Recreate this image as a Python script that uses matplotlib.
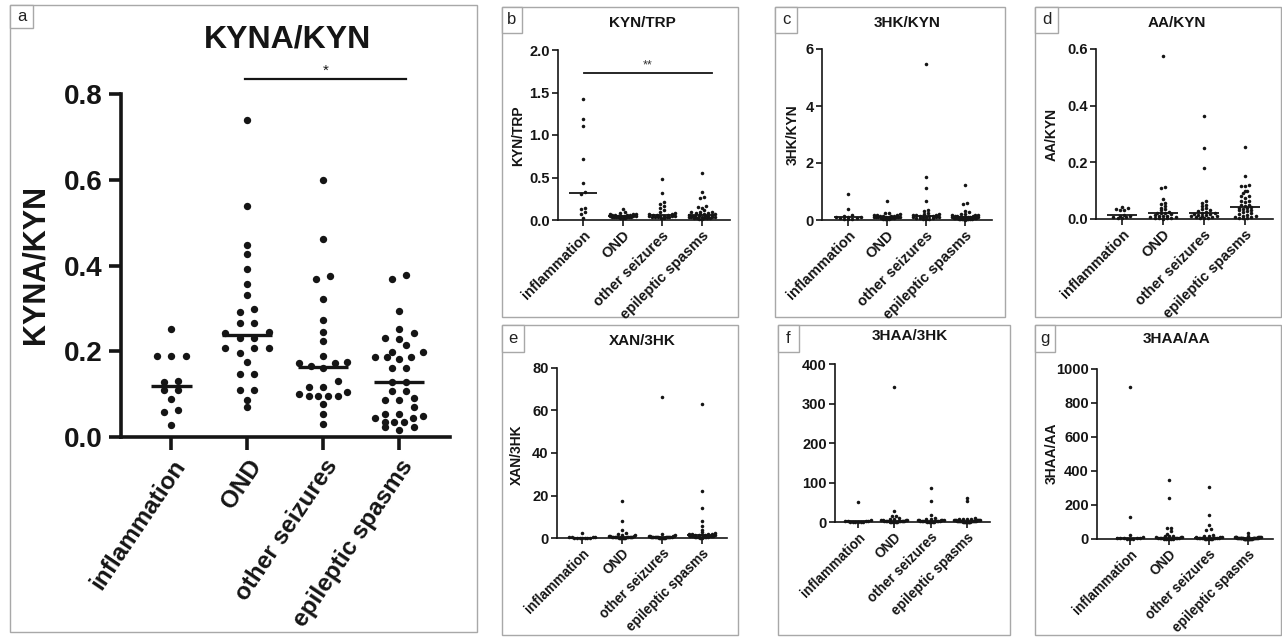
import numpy as np
import matplotlib
matplotlib.use("Agg")
import matplotlib.pyplot as plt
from matplotlib.patches import Rectangle
from matplotlib.ticker import FormatStrFormatter

plt.rcParams['font.family'] = ['Liberation Sans', 'DejaVu Sans']

W, H, DPI = 1282, 637, 100

categories = ["inflammation", "OND", "other seizures", "epileptic spasms"]

# ---------------- data ----------------
kyna_kyn = [
    [0.251, 0.188, 0.188, 0.188, 0.129, 0.131, 0.110, 0.110, 0.088, 0.058, 0.063, 0.028],
    [0.739, 0.539, 0.448, 0.427, 0.393, 0.357, 0.331, 0.298, 0.292, 0.267, 0.267, 0.246,
     0.243, 0.232, 0.232, 0.208, 0.208, 0.208, 0.197, 0.175, 0.147, 0.147, 0.110, 0.110,
     0.086, 0.069],
    [0.599, 0.462, 0.376, 0.369, 0.321, 0.273, 0.244, 0.225, 0.190, 0.175, 0.172, 0.172,
     0.165, 0.160, 0.130, 0.116, 0.116, 0.105, 0.100, 0.096, 0.096, 0.096, 0.096, 0.077,
     0.054, 0.030],
    [0.379, 0.369, 0.295, 0.253, 0.242, 0.232, 0.228, 0.215, 0.199, 0.198, 0.187, 0.187,
     0.186, 0.182, 0.161, 0.161, 0.129, 0.129, 0.107, 0.107, 0.090, 0.086, 0.086, 0.069,
     0.054, 0.054, 0.048, 0.044, 0.044, 0.035, 0.035, 0.035, 0.023, 0.023, 0.016],
]

kyn_trp = [
    [1.424, 1.184, 1.11, 0.714, 0.431, 0.333, 0.306, 0.137, 0.125, 0.09, 0.067, 0.028],
    [0.126, 0.09, 0.08, 0.075, 0.07, 0.065, 0.06, 0.06, 0.055, 0.055, 0.05, 0.05, 0.05,
     0.048, 0.045, 0.045, 0.04, 0.04, 0.038, 0.035, 0.035, 0.03, 0.03, 0.028, 0.025, 0.02],
    [0.479, 0.314, 0.216, 0.19, 0.169, 0.14, 0.118, 0.1, 0.078, 0.07, 0.065, 0.06, 0.058,
     0.055, 0.052, 0.05, 0.048, 0.045, 0.043, 0.04, 0.038, 0.035, 0.033, 0.03, 0.025, 0.02],
    [0.549, 0.326, 0.275, 0.26, 0.16, 0.15, 0.14, 0.12, 0.10, 0.095, 0.09, 0.085, 0.08,
     0.075, 0.07, 0.065, 0.06, 0.055, 0.05, 0.05, 0.048, 0.045, 0.042, 0.04, 0.038, 0.035,
     0.032, 0.03, 0.028, 0.025, 0.022, 0.02, 0.018, 0.015, 0.01],
]

hk3_kyn = [
    [0.90, 0.39, 0.16, 0.15, 0.12, 0.11, 0.10, 0.08, 0.06, 0.05, 0.04, 0.03],
    [0.67, 0.26, 0.24, 0.2, 0.18, 0.17, 0.16, 0.15, 0.14, 0.13, 0.13, 0.12, 0.12, 0.11,
     0.11, 0.10, 0.10, 0.09, 0.09, 0.08, 0.07, 0.06, 0.05, 0.05, 0.04, 0.03],
    [5.49, 1.50, 1.12, 0.67, 0.35, 0.32, 0.25, 0.22, 0.2, 0.18, 0.17, 0.16, 0.15, 0.14,
     0.13, 0.12, 0.12, 0.11, 0.10, 0.09, 0.08, 0.07, 0.06, 0.05, 0.04, 0.03],
    [1.23, 0.58, 0.55, 0.32, 0.28, 0.22, 0.2, 0.18, 0.17, 0.16, 0.15, 0.14, 0.13, 0.12,
     0.12, 0.11, 0.1, 0.1, 0.09, 0.09, 0.08, 0.08, 0.07, 0.07, 0.06, 0.06, 0.05, 0.05,
     0.04, 0.04, 0.03, 0.03, 0.02, 0.02, 0.01],
]

aa_kyn = [
    [0.042, 0.038, 0.035, 0.033, 0.03, 0.015, 0.012, 0.01, 0.008, 0.006, 0.005, 0.003],
    [0.576, 0.112, 0.108, 0.07, 0.058, 0.052, 0.045, 0.04, 0.035, 0.03, 0.025, 0.022,
     0.022, 0.02, 0.018, 0.015, 0.012, 0.01, 0.01, 0.008, 0.007, 0.005, 0.004, 0.003,
     0.002, 0.001],
    [0.362, 0.251, 0.18, 0.062, 0.056, 0.05, 0.047, 0.04, 0.035, 0.03, 0.028, 0.025,
     0.022, 0.02, 0.018, 0.017, 0.015, 0.014, 0.012, 0.01, 0.01, 0.008, 0.006, 0.005,
     0.003, 0.002],
    [0.254, 0.153, 0.12, 0.118, 0.115, 0.1, 0.098, 0.09, 0.082, 0.08, 0.075, 0.065,
     0.062, 0.06, 0.05, 0.048, 0.045, 0.042, 0.04, 0.038, 0.035, 0.032, 0.03, 0.028,
     0.025, 0.02, 0.018, 0.015, 0.012, 0.01, 0.008, 0.006, 0.005, 0.003, 0.002],
]

xan_3hk = [
    [2.3, 0.6, 0.4, 0.3, 0.25, 0.2, 0.15, 0.1, 0.1, 0.05, 0.05, 0.02],
    [17.2, 8.2, 3.6, 2.3, 1.8, 1.5, 1.2, 1.0, 0.9, 0.8, 0.7, 0.6, 0.6, 0.5, 0.5, 0.4,
     0.4, 0.3, 0.3, 0.25, 0.2, 0.2, 0.15, 0.1, 0.1, 0.05],
    [66.2, 1.9, 1.2, 1.0, 0.9, 0.8, 0.8, 0.7, 0.6, 0.6, 0.5, 0.5, 0.5, 0.4, 0.4, 0.4,
     0.3, 0.3, 0.3, 0.25, 0.2, 0.2, 0.15, 0.1, 0.1, 0.05],
    [63.2, 22.0, 14.1, 7.8, 5.8, 3.9, 2.7, 2.2, 2.0, 1.9, 1.8, 1.7, 1.6, 1.5, 1.4, 1.3,
     1.2, 1.2, 1.1, 1.0, 1.0, 0.9, 0.9, 0.8, 0.8, 0.7, 0.7, 0.6, 0.6, 0.5, 0.5, 0.4,
     0.3, 0.2, 0.1],
]

haa3_3hk = [
    [51, 6, 3, 2.5, 2, 1.5, 1.2, 1, 0.8, 0.5, 0.3, 0.1],
    [341, 28, 15, 14, 10, 8, 7, 6, 5, 4.5, 4, 3.5, 3, 3, 2.5, 2.5, 2, 2, 1.5, 1.5, 1.2,
     1, 0.8, 0.5, 0.3, 0.1],
    [86, 52.5, 18.6, 10, 8, 7, 6, 5, 5, 4.5, 4, 3.5, 3, 3, 2.5, 2.5, 2, 2, 1.5, 1.5, 1.2,
     1, 0.8, 0.5, 0.3, 0.1],
    [62, 52.5, 9, 8, 7.5, 7, 6.5, 6, 5.5, 5, 5, 4.5, 4, 4, 3.5, 3.5, 3, 3, 3, 2.5, 2.5,
     2, 2, 2, 1.5, 1.5, 1.2, 1, 1, 0.8, 0.6, 0.5, 0.3, 0.2, 0.1],
]

haa3_aa = [
    [892, 130, 22, 10, 8, 6, 5, 4, 3, 2, 1, 0.5],
    [346, 244, 67, 65, 45, 31, 20, 18, 15, 12, 10, 9, 8, 7, 6, 5, 5, 4, 3, 3, 2, 2, 1, 1,
     0.5, 0.2],
    [303, 144, 83, 61, 55, 25, 20, 15, 12, 10, 9, 8, 7, 6, 5, 5, 4, 4, 3, 3, 2, 2, 1, 1,
     0.5, 0.2],
    [35, 15, 14, 12, 12, 10, 10, 9, 9, 8, 8, 7, 7, 6, 6, 5, 5, 5, 4, 4, 4, 3, 3, 3, 2, 2,
     2, 1.5, 1.5, 1, 1, 0.8, 0.5, 0.3, 0.1],
]

# ---------------- helpers ----------------
fig = plt.figure(figsize=(W / DPI, H / DPI), dpi=DPI)
fig.patch.set_facecolor('white')
INK = '#151515'


def frac_rect(l, t, r, b):
    return [l / W, 1 - b / H, (r - l) / W, (b - t) / H]


def add_box(l, t, r, b, color='#a8a8a8', lw=1.0, fill=False):
    fig.add_artist(Rectangle((l / W, 1 - b / H), (r - l) / W, (b - t) / H,
                             transform=fig.transFigure, fill=fill, facecolor='white',
                             edgecolor=color, lw=lw, zorder=0 if not fill else 5))


def swarm_offsets(values, px_per_y, px_per_cat, row_px, spacing_px, max_half_px):
    vals = np.asarray(values, float)
    order = np.argsort(vals)
    offs = np.zeros(len(vals))
    rows, cur, start = [], [order[0]], vals[order[0]]
    for idx in order[1:]:
        if (vals[idx] - start) * px_per_y <= row_px:
            cur.append(idx)
        else:
            rows.append(cur)
            cur, start = [idx], vals[idx]
    rows.append(cur)
    for row in rows:
        n = len(row)
        sp = spacing_px
        if n > 1 and (n - 1) * sp / 2 > max_half_px:
            sp = 2 * max_half_px / (n - 1)
        slots = [(k - (n - 1) / 2) * sp for k in range(n)]
        slots = sorted(slots, key=lambda s: (abs(s), s))
        row_sorted = sorted(row, key=lambda i: vals[i])
        for s, idx in zip(slots, row_sorted):
            offs[idx] = s / px_per_cat
    return offs


def draw_panel(px, ytop, yticks, fmt, groups, xlim, big=False, xfs=10.5, xrot=45):
    l, t, r, b = px
    ax = fig.add_axes(frac_rect(l, t, r, b))
    ax.set_xlim(*xlim)
    ax.set_ylim(0, ytop)
    px_per_y = (b - t) / ytop
    px_per_cat = (r - l) / (xlim[1] - xlim[0])
    if big:
        s, row_px, sp, mh, med_half, med_lw = 28, 7.0, 14.5, 24, 0.33, 2.4
        spine_lw, tlen, tfs = 2.6, 9, 20
    else:
        s, row_px, sp, mh, med_half, med_lw = 6.5, 2.5, 4.2, 13, 0.36, 1.3
        spine_lw, tlen, tfs = 1.2, 4, 10.5
    for i, vals in enumerate(groups):
        offs = swarm_offsets(vals, px_per_y, px_per_cat, row_px, sp, mh)
        ax.scatter(i + offs, vals, s=s, color=INK, lw=0, clip_on=False, zorder=3)
        med = np.median(vals)
        hw = med_half * (0.82 if (big and i == 0) else 1.0)
        ax.plot([i - hw, i + hw], [med, med], color=INK, lw=med_lw,
                solid_capstyle='butt', clip_on=False, zorder=4)
    for sp_name in ['top', 'right']:
        ax.spines[sp_name].set_visible(False)
    for sp_name in ['left', 'bottom']:
        ax.spines[sp_name].set_linewidth(spine_lw)
        ax.spines[sp_name].set_color(INK)
    ax.set_yticks(yticks)
    ax.yaxis.set_major_formatter(FormatStrFormatter(fmt))
    ax.set_xticks(range(len(categories)))
    ax.set_xticklabels(categories, rotation=xrot, ha='right', rotation_mode='anchor',
                       fontsize=xfs, fontweight='bold', color=INK)
    ax.tick_params(axis='both', length=tlen, width=spine_lw, color=INK,
                   labelcolor=INK)
    ax.tick_params(axis='x', pad=4 if big else 2, labelsize=xfs)
    ax.tick_params(axis='y', pad=4 if big else 2, labelsize=tfs)
    for lab in ax.get_yticklabels():
        lab.set_fontweight('bold')
    ax.patch.set_alpha(0)
    return ax


def label_box(l, t, r, b, letter):
    add_box(l, t, r, b, color='#a8a8a8', lw=1.0, fill=True)
    fig.text((l + r) / 2 / W, 1 - (t + b) / 2 / H, letter, ha='center', va='center',
             fontsize=12, color='#222222', zorder=6)


def ptext(x, y, s, **kw):
    fig.text(x / W, 1 - y / H, s, **kw)


# ---------------- panel borders ----------------
add_box(10, 5, 477, 632)
add_box(502, 7, 738, 317)
add_box(775, 7, 1005, 317)
add_box(1035, 7, 1281, 317)
add_box(502, 325, 738, 635)
add_box(778, 325, 1010, 635)
add_box(1035, 325, 1281, 635)

# ---------------- panel a ----------------
axa = draw_panel((121, 94, 450, 437), 0.8, [0.0, 0.2, 0.4, 0.6, 0.8], '%.1f',
                 kyna_kyn, (-0.66, 3.67), big=True, xfs=17.5, xrot=56)
axa.plot([0.97, 3.09], [0.835, 0.835], color=INK, lw=1.6, clip_on=False)
axa.text(2.03, 0.838, '*', ha='center', va='bottom', fontsize=11, color=INK)
ptext(287, 40, 'KYNA/KYN', ha='center', va='center', fontsize=23, fontweight='bold',
      color=INK)
ptext(36, 265, 'KYNA/KYN', ha='center', va='center', rotation=90, fontsize=22,
      fontweight='bold', color=INK)
label_box(10, 5, 33, 28, 'a')

# ---------------- panel b ----------------
axb = draw_panel((558, 50, 730, 220), 2.0, [0.0, 0.5, 1.0, 1.5, 2.0], '%.1f',
                 kyn_trp, (-0.63, 3.71))
axb.plot([0.02, 3.25], [1.73, 1.73], color=INK, lw=1.3, clip_on=False)
axb.text(1.63, 1.745, '**', ha='center', va='bottom', fontsize=9, color='#333333')
ptext(642, 23, 'KYN/TRP', ha='center', va='center', fontsize=11, fontweight='bold',
      color=INK)
ptext(518, 136, 'KYN/TRP', ha='center', va='center', rotation=90, fontsize=10,
      fontweight='bold', color=INK)
label_box(502, 7, 522, 33, 'b')

# ---------------- panel c ----------------
draw_panel((822, 49, 992, 220), 6, [0, 2, 4, 6], '%d', hk3_kyn, (-0.67, 3.69))
ptext(907, 23, '3HK/KYN', ha='center', va='center', fontsize=11, fontweight='bold',
      color=INK)
ptext(793, 135, '3HK/KYN', ha='center', va='center', rotation=90, fontsize=10,
      fontweight='bold', color=INK)
label_box(775, 7, 797, 33, 'c')

# ---------------- panel d ----------------
draw_panel((1096, 49, 1273, 219), 0.6, [0.0, 0.2, 0.4, 0.6], '%.1f', aa_kyn,
           (-0.63, 3.68))
ptext(1177, 23, 'AA/KYN', ha='center', va='center', fontsize=11, fontweight='bold',
      color=INK)
ptext(1052, 134, 'AA/KYN', ha='center', va='center', rotation=90, fontsize=10,
      fontweight='bold', color=INK)
label_box(1035, 7, 1058, 33, 'd')

# ---------------- panel e ----------------
draw_panel((557, 368, 727, 538), 80, [0, 20, 40, 60, 80], '%d', xan_3hk,
           (-0.63, 3.63), xfs=9.8)
ptext(642, 341, 'XAN/3HK', ha='center', va='center', fontsize=11, fontweight='bold',
      color=INK)
ptext(517, 455, 'XAN/3HK', ha='center', va='center', rotation=90, fontsize=10,
      fontweight='bold', color=INK)
label_box(502, 325, 524, 352, 'e')

# ---------------- panel f ----------------
draw_panel((835, 364, 990, 522), 400, [0, 100, 200, 300, 400], '%d', haa3_3hk,
           (-0.63, 3.63), xfs=9.8)
ptext(910, 336, '3HAA/3HK', ha='center', va='center', fontsize=11, fontweight='bold',
      color=INK)
label_box(778, 325, 799, 352, 'f')

# ---------------- panel g ----------------
draw_panel((1097, 369, 1273, 539), 1000, [0, 200, 400, 600, 800, 1000], '%d', haa3_aa,
           (-0.84, 3.64), xfs=9.8)
ptext(1177, 339, '3HAA/AA', ha='center', va='center', fontsize=11, fontweight='bold',
      color=INK)
ptext(1052, 453, '3HAA/AA', ha='center', va='center', rotation=90, fontsize=10,
      fontweight='bold', color=INK)
label_box(1035, 325, 1055, 352, 'g')

fig.savefig('out.png', dpi=DPI, facecolor='white')
